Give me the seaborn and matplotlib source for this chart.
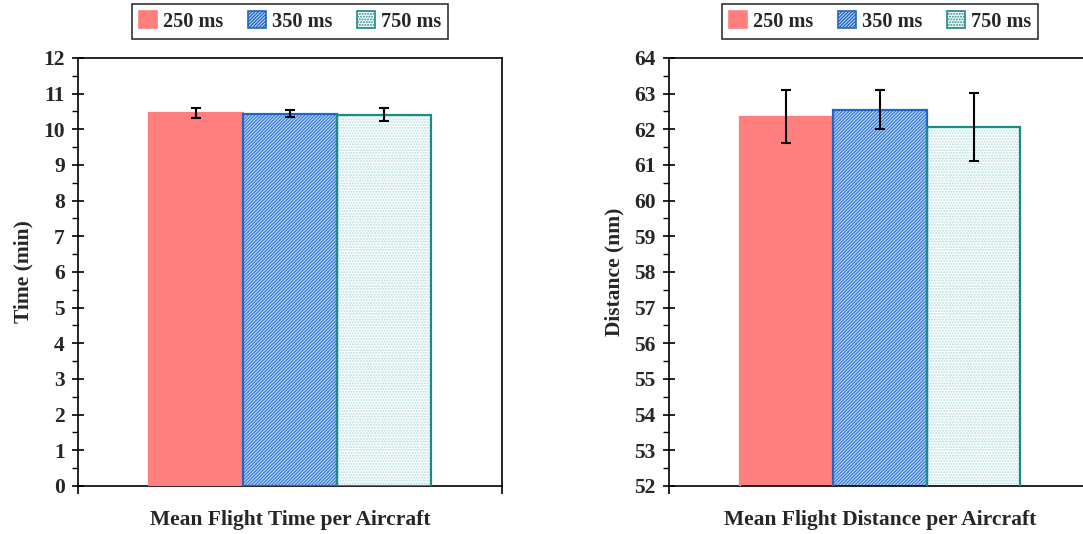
import matplotlib
matplotlib.use("Agg")
import matplotlib.pyplot as plt
import matplotlib.patches as mpatches
import seaborn as sns
import pandas as pd
import numpy as np

# Update intervals compared in the simulation runs
intervals = ["250 ms", "350 ms", "750 ms"]

# Mean flight time per aircraft (minutes) and its error half-widths
time_means = [10.47, 10.44, 10.41]
time_errs = [0.14, 0.10, 0.18]

# Mean flight distance per aircraft (nautical miles) and its error half-widths
dist_means = [62.35, 62.55, 62.06]
dist_errs = [0.74, 0.55, 0.96]

time_label = "Mean Flight Time per Aircraft"
dist_label = "Mean Flight Distance per Aircraft"

sns.set_theme(style="white")
plt.rcParams["font.family"] = ["Liberation Serif", "DejaVu Serif"]
plt.rcParams["font.weight"] = "bold"
plt.rcParams["hatch.linewidth"] = 1.0

# fill colour, hatch pattern, hatch colour, outline colour per interval
styles = {
    "250 ms": dict(face="#ff7f7f", hatch=None, hcol="#ff7f7f", edge="#ff7f7f"),
    "350 ms": dict(face="#cfe0f6", hatch="//////////", hcol="#3a7fdc", edge="#1f66c8"),
    "750 ms": dict(face="#ffffff", hatch="......", hcol="#b4dede", edge="#1d8a8a"),
}

FS = 15.5

fig = plt.figure(figsize=(10.83, 5.34), dpi=100)
ax1 = fig.add_axes([0.0720, 0.0899, 0.3915, 0.8015])
ax2 = fig.add_axes([0.6177, 0.0899, 0.3897, 0.8015])


def draw_panel(ax, title, means, errs, ylo, yhi, ylabel):
    df = pd.DataFrame({"metric": [title] * len(intervals),
                       "interval": intervals,
                       "value": means})
    sns.barplot(data=df, x="metric", y="value", hue="interval",
                hue_order=intervals, width=0.665, errorbar=None,
                legend=False, ax=ax, linewidth=0)
    centers = []
    for name, cont in zip(intervals, ax.containers):
        st = styles[name]
        for p in cont.patches:
            p.set_facecolor(st["face"])
            p.set_edgecolor(st["hcol"])
            p.set_linewidth(0)
            if st["hatch"]:
                p.set_hatch(st["hatch"])
            # crisp outline drawn over the hatched fill
            ax.bar(p.get_x(), p.get_height(), width=p.get_width(),
                   bottom=p.get_y(), align="edge", fill=False,
                   edgecolor=st["edge"], linewidth=1.6, zorder=3)
            centers.append(p.get_x() + p.get_width() / 2)
    ax.errorbar(centers, means, yerr=errs, fmt="none", ecolor="black",
                elinewidth=1.5, capsize=3.6, capthick=1.5, zorder=5)

    ax.set_xlim(-0.5, 0.5)
    ax.set_ylim(ylo, yhi)
    ax.set_yticks(np.arange(ylo, yhi + 0.1, 1))
    ax.set_yticks(np.arange(ylo + 0.5, yhi, 1), minor=True)
    ax.set_xticks([-0.5, 0.5])
    ax.set_xticklabels([])
    ax.tick_params(axis="y", which="major", direction="inout", length=9,
                   width=1.2, color="black", labelsize=FS, pad=5, left=True)
    ax.tick_params(axis="y", which="minor", direction="out", length=4,
                   width=1.0, color="black", left=True)
    ax.tick_params(axis="x", which="major", direction="out", length=6,
                   width=1.2, color="black", bottom=True)
    for lab in ax.get_yticklabels():
        lab.set_fontweight("bold")
    for sp in ax.spines.values():
        sp.set_visible(True)
        sp.set_color("black")
        sp.set_linewidth(1.2)
    ax.set_xlabel(title, fontsize=FS, fontweight="bold", labelpad=8)
    ax.set_ylabel(ylabel, fontsize=FS, fontweight="bold", labelpad=7)

    handles = []
    for name in intervals:
        st = styles[name]
        handles.append(mpatches.Patch(facecolor=st["face"],
                                      edgecolor=st["edge"],
                                      hatch=st["hatch"], linewidth=1.2,
                                      label=name))
    leg = ax.legend(handles=handles, loc="center", ncol=3,
                    bbox_to_anchor=(0.5, 1.085), frameon=True,
                    fancybox=False, edgecolor="black", fontsize=14.6,
                    handlelength=0.9, handleheight=0.9, handletextpad=0.3,
                    columnspacing=1.2, borderpad=0.35)
    leg.get_frame().set_linewidth(1.2)
    for t in leg.get_texts():
        t.set_fontweight("bold")


draw_panel(ax1, time_label, time_means, time_errs, 0, 12, "Time (min)")
draw_panel(ax2, dist_label, dist_means, dist_errs, 52, 64, "Distance (nm)")

fig.savefig("out.png", dpi=100, facecolor="white")
